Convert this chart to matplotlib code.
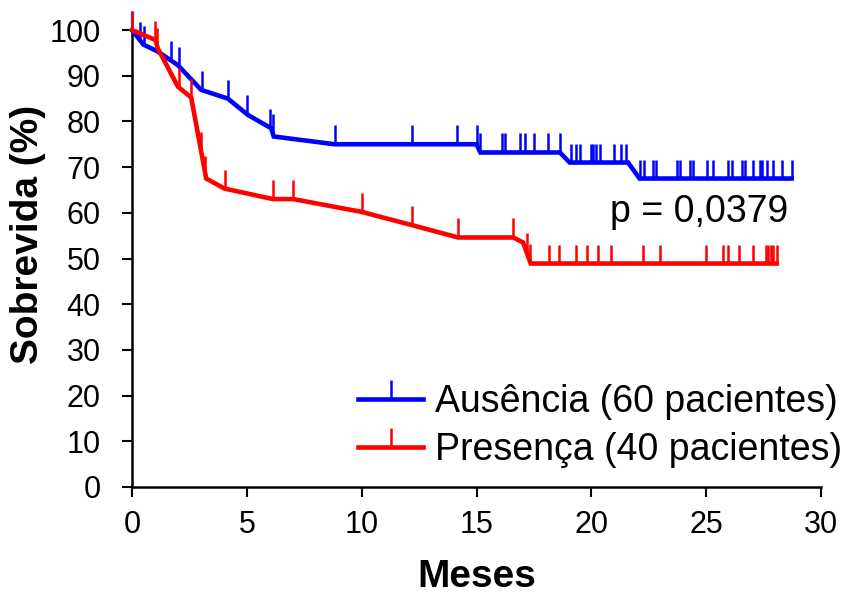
import numpy as np
import matplotlib
matplotlib.use("Agg")
import matplotlib.pyplot as plt
from matplotlib.path import Path
from matplotlib.lines import Line2D
from matplotlib import font_manager

# ---------------- data ----------------
aus_t = [0, 0.5, 1.12, 2.0, 3.01, 4.17, 5.05, 6.06, 6.17, 8.82, 15.0, 15.17, 18.63, 19.06, 21.6, 22.1, 28.72]
aus_s = [100, 96.8, 95.3, 92.3, 86.9, 85.0, 81.4, 78.5, 76.7, 75.0, 75.0, 73.2, 73.2, 71.0, 71.0, 67.5, 67.5]
aus_cens = [0, 0.36, 0.51, 1.68, 2.04, 3.03, 4.17, 5.02, 6.02, 6.13, 8.82, 12.19, 14.17, 15.0, 15.15,
            16.12, 16.22, 16.9, 17.12, 17.5, 18.13, 18.62, 19.1, 19.35, 19.5, 19.98, 20.08, 20.2, 20.37,
            20.98, 21.27, 21.53, 22.11, 22.29, 22.7, 22.81, 23.71, 23.86, 24.29, 24.44, 25.02, 25.31,
            25.96, 26.11, 26.54, 26.69, 27.05, 27.34, 27.44, 27.63, 27.92, 28.29, 28.72]

pre_t = [0, 1.03, 1.12, 2.0, 2.58, 3.23, 4.03, 6.14, 7.02, 10.0, 12.19, 14.2, 16.6, 17.03, 17.36, 28.07]
pre_s = [100, 97.8, 96.0, 87.6, 85.2, 67.5, 65.3, 63.0, 63.0, 60.2, 57.3, 54.6, 54.6, 53.5, 48.9, 48.9]
pre_cens = [0, 0.99, 1.11, 2.04, 2.58, 3.01, 3.2, 4.03, 6.16, 7.02, 10.01, 12.19, 14.2, 16.6, 17.18,
            17.35, 18.16, 18.6, 19.33, 19.79, 20.3, 20.85, 22.26, 22.98, 24.99, 25.72, 25.96, 26.44,
            27.02, 27.6, 27.7, 27.81, 27.92, 28.07]

labels = ["Ausência (60 pacientes)", "Presença (40 pacientes)"]
x_ticks = [0, 5, 10, 15, 20, 25, 30]
y_ticks = [0, 10, 20, 30, 40, 50, 60, 70, 80, 90, 100]
p_text = "p = 0,0379"

# ---------------- fonts ----------------
names = {f.name for f in font_manager.fontManager.ttflist}
base = "Liberation Sans" if "Liberation Sans" in names else "DejaVu Sans"
narrow = "Liberation Sans Narrow" if "Liberation Sans Narrow" in names else base
plt.rcParams['font.family'] = [base, 'DejaVu Sans']

# ---------------- figure ----------------
fig = plt.figure(figsize=(8.48, 5.94), dpi=100)
ax = fig.add_axes([132/848, 1-487/594, (821-132)/848, (487-30)/594])

tick_marker = Path([(0, 0), (0, 1)])
blue = '#0000FF'
red = '#FF0000'

for t, s, c, col in [(aus_t, aus_s, aus_cens, blue), (pre_t, pre_s, pre_cens, red)]:
    ax.plot(t, s, color=col, lw=3.3, solid_joinstyle='miter', clip_on=False, zorder=3)
    ax.plot(c, np.interp(c, t, s), linestyle='none', marker=tick_marker, ms=27,
            mew=1.8, color=col, clip_on=False, zorder=3)

ax.set_xlim(0, 30)
ax.set_ylim(0, 100)
ax.set_xticks(x_ticks)
ax.set_yticks(y_ticks)
ax.set_xticklabels([str(v) for v in x_ticks], fontsize=22, family=[narrow, 'DejaVu Sans'])
ax.set_yticklabels([str(v) for v in y_ticks], fontsize=22)
ax.tick_params(axis='both', direction='out', length=7.5, width=1.5, color='black')
ax.tick_params(axis='y', pad=15)
ax.tick_params(axis='x', pad=9)
for sp in ['top', 'right']:
    ax.spines[sp].set_visible(False)
for sp in ['left', 'bottom']:
    ax.spines[sp].set_linewidth(1.8)

fig.text(28/848, 1-234/594, "Sobrevida (%)", rotation=90, ha='center', va='center',
         fontsize=28, fontweight='bold')
fig.text(477/848, 1-577/594, "Meses", ha='center', va='center',
         fontsize=28, fontweight='bold', family=[narrow, 'DejaVu Sans'])

ax.text(20.8, 60.2, p_text, ha='left', va='center', fontsize=27)

handles = [Line2D([], [], color=blue, lw=3.3, marker=tick_marker, ms=27, mew=1.8),
           Line2D([], [], color=red, lw=3.3, marker=tick_marker, ms=27, mew=1.8)]
leg = ax.legend(handles, labels, loc='upper left',
                bbox_to_anchor=(358/848, 1-384/594), bbox_transform=fig.transFigure,
                frameon=False, fontsize=27, handlelength=1.74, handletextpad=0.32,
                borderpad=0, borderaxespad=0, labelspacing=0.33, numpoints=1)

fig.savefig("out.png", dpi=100)
